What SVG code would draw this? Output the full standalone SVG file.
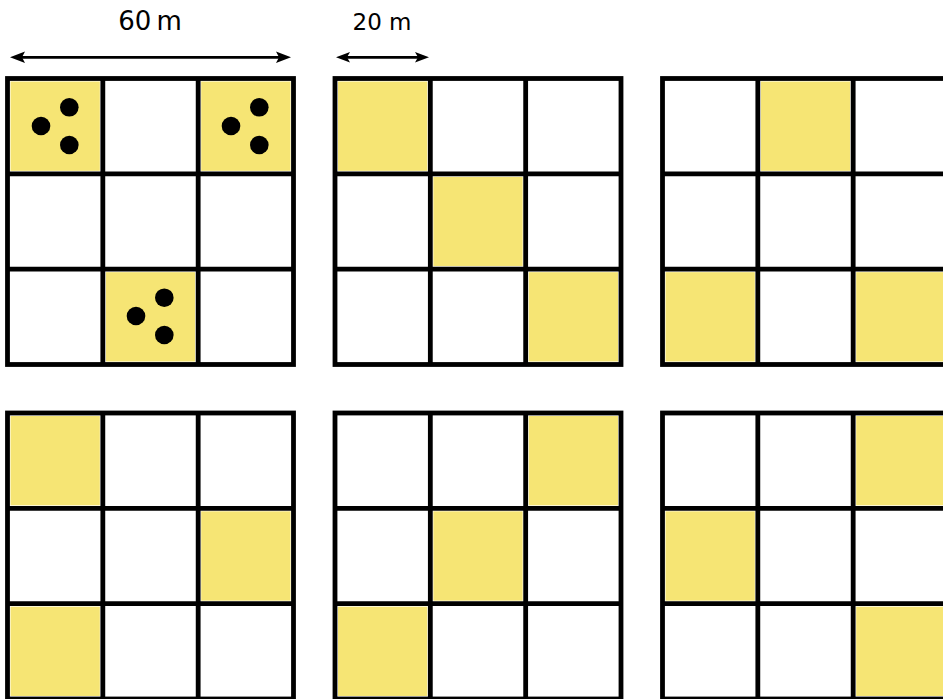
<svg xmlns="http://www.w3.org/2000/svg" width="943" height="699" viewBox="0 0 943 699">
<defs>
<style>
.y{fill:#f6e574}
.g{fill:none;stroke:#000;stroke-width:4.8}
.d{fill:#000}
.al{stroke:#000;stroke-width:2.8;fill:none}
.ah{fill:#000}
.t{font-family:"DejaVu Sans",sans-serif;fill:#000}
</style>
<g id="grid">
<rect x="0" y="0" width="286" height="286" class="g"/>
<path class="g" d="M95.33 0V286M190.67 0V286M0 95.33H286M0 190.67H286"/>
</g>
</defs>
<rect width="943" height="699" fill="#fff"/>
<g id="dimensions">
<path class="al" d="M18 57.3H283"/>
<path class="ah" d="M10 57.3L25 51.5L22 57.3L25 63.1Z"/>
<path class="ah" d="M291 57.3L276 51.5L279 57.3L276 63.1Z"/>
<text class="t" x="150" y="30" font-size="26" word-spacing="-3" text-anchor="middle">60 m</text>
<path class="al" d="M344 57.3H421"/>
<path class="ah" d="M336 57.3L350 52L347 57.3L350 62.6Z"/>
<path class="ah" d="M429 57.3L415 52L418 57.3L415 62.6Z"/>
<text class="t" x="382" y="30" font-size="23" text-anchor="middle">20 m</text>
</g>
<g id="grid1" transform="translate(7.5,78.5)">
<rect class="y" x="3" y="3" width="89.33" height="89.33"/>
<rect class="y" x="193.67" y="3" width="89.33" height="89.33"/>
<rect class="y" x="98.33" y="193.67" width="89.33" height="89.33"/>
<use href="#grid"/>
<circle class="d" cx="33.5" cy="47.5" r="9.3"/>
<circle class="d" cx="61.8" cy="28.8" r="9.3"/>
<circle class="d" cx="61.8" cy="66.5" r="9.3"/>
<circle class="d" cx="223.5" cy="47.5" r="9.3"/>
<circle class="d" cx="251.8" cy="28.8" r="9.3"/>
<circle class="d" cx="251.8" cy="66.5" r="9.3"/>
<circle class="d" cx="128.5" cy="237.5" r="9.3"/>
<circle class="d" cx="156.8" cy="219.2" r="9.3"/>
<circle class="d" cx="156.8" cy="256.5" r="9.3"/>
</g>
<g id="grid2" transform="translate(335,78.5)">
<rect class="y" x="3" y="3" width="89.33" height="89.33"/>
<rect class="y" x="98.33" y="98.33" width="89.33" height="89.33"/>
<rect class="y" x="193.67" y="193.67" width="89.33" height="89.33"/>
<use href="#grid"/>
</g>
<g id="grid3" transform="translate(662.5,78.5)">
<rect class="y" x="98.33" y="3" width="89.33" height="89.33"/>
<rect class="y" x="3" y="193.67" width="89.33" height="89.33"/>
<rect class="y" x="193.67" y="193.67" width="89.33" height="89.33"/>
<use href="#grid"/>
</g>
<g id="grid4" transform="translate(7.5,413)">
<rect class="y" x="3" y="3" width="89.33" height="89.33"/>
<rect class="y" x="193.67" y="98.33" width="89.33" height="89.33"/>
<rect class="y" x="3" y="193.67" width="89.33" height="89.33"/>
<use href="#grid"/>
</g>
<g id="grid5" transform="translate(335,413)">
<rect class="y" x="193.67" y="3" width="89.33" height="89.33"/>
<rect class="y" x="98.33" y="98.33" width="89.33" height="89.33"/>
<rect class="y" x="3" y="193.67" width="89.33" height="89.33"/>
<use href="#grid"/>
</g>
<g id="grid6" transform="translate(662.5,413)">
<rect class="y" x="193.67" y="3" width="89.33" height="89.33"/>
<rect class="y" x="3" y="98.33" width="89.33" height="89.33"/>
<rect class="y" x="193.67" y="193.67" width="89.33" height="89.33"/>
<use href="#grid"/>
</g>
</svg>
